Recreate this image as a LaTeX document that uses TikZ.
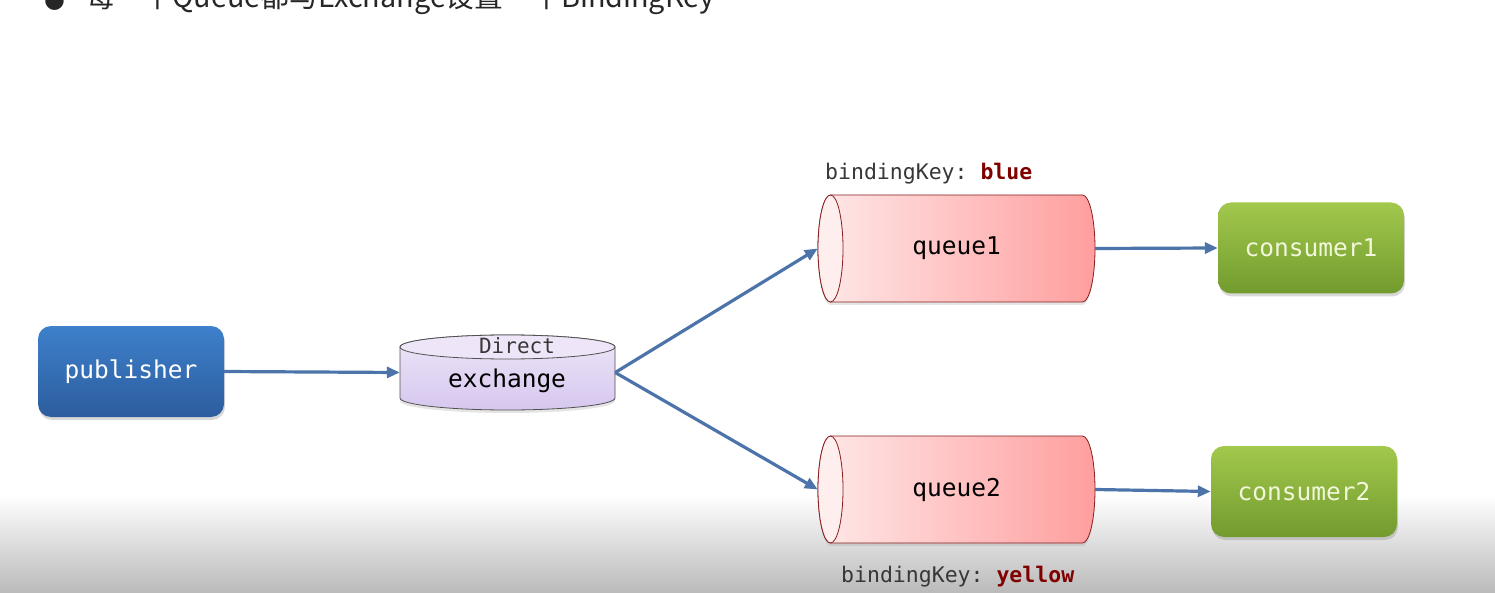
\documentclass[tikz,border=0pt]{standalone}
\usepackage{fontspec}
\setmonofont{DejaVu Sans Mono}
\newfontfamily\cjkfont{Noto Sans CJK SC}
\newfontfamily\symfont{DejaVu Sans}
\usetikzlibrary{arrows.meta,shadows}
\definecolor{pubtop}{RGB}{62,128,203}
\definecolor{pubbot}{RGB}{44,93,158}
\definecolor{contop}{RGB}{162,200,76}
\definecolor{conbot}{RGB}{114,155,46}
\definecolor{context}{RGB}{242,247,218}
\definecolor{arrowblue}{RGB}{76,116,171}
\definecolor{qborder}{RGB}{135,30,30}
\definecolor{qleft}{RGB}{255,232,232}
\definecolor{qright}{RGB}{255,158,158}
\definecolor{qend}{RGB}{255,238,238}
\definecolor{extop}{RGB}{238,230,248}
\definecolor{exbot}{RGB}{214,199,238}
\definecolor{exborder}{RGB}{80,80,80}
\definecolor{keygray}{RGB}{55,55,55}
\definecolor{keyred}{RGB}{128,0,0}
\definecolor{shadebot}{RGB}{186,186,186}
\newcommand\boxfont{\ttfamily\fontsize{24.5}{28}\selectfont}
\newcommand\keyfont{\ttfamily\fontsize{21.5}{24}\selectfont}
\begin{document}
\begin{tikzpicture}[x=1pt,y=-1pt,
  box/.style={rounded corners=13pt, minimum width=186pt, minimum height=91pt, inner sep=0pt, font=\boxfont,
    drop shadow={opacity=0.3, shadow xshift=1pt, shadow yshift=-3pt}},
  pubbox/.style={box, top color=pubtop, bottom color=pubbot, text=white},
  conbox/.style={box, top color=contop, bottom color=conbot, text=context},
  qbox/.style={minimum width=277pt, minimum height=107pt, inner sep=0pt, font=\boxfont},
  qbody/.style={draw=qborder, line width=0.8pt, left color=qleft, right color=qright,
    drop shadow={opacity=0.2, shadow xshift=0pt, shadow yshift=-3pt}},
  qface/.style={draw=qborder, line width=0.8pt, fill=qend},
  exbody/.style={draw=exborder, line width=0.8pt, top color=extop, bottom color=exbot,
    drop shadow={opacity=0.2, shadow xshift=0pt, shadow yshift=-3pt}},
  exface/.style={draw=exborder, line width=0.8pt, fill=extop},
  flow/.style={draw=arrowblue, line width=3.2pt, -{Triangle[length=13pt,width=11pt]}},
  keylbl/.style={anchor=west, inner sep=0pt, font=\keyfont, text=keygray}]
\useasboundingbox (0,0) rectangle (1495,593);
\clip (0,0) rectangle (1495,593);
% background
\fill[white] (0,0) rectangle (1495,593);
\shade[top color=white, bottom color=shadebot] (0,495) rectangle (1495,593);
% title (cut off at the top, as in the reference)
\node[anchor=base, inner sep=0pt, font=\symfont\fontsize{24}{24}\selectfont, text=black!85] (bul) at (54.5,8) {●};
\node[anchor=base west, inner sep=0pt, font=\cjkfont\fontsize{28.8}{30}\selectfont, text=black!85] (title) at (86,8) {每一个Queue都与Exchange设置一个BindingKey};
% exchange cylinder
\path[exbody] (400,347) -- (400,398) arc[start angle=180, end angle=360, x radius=107.5pt, y radius=12pt]
  -- (615,347) arc[start angle=0, end angle=180, x radius=107.5pt, y radius=12pt] -- cycle;
\path[exface] (507.5,347) ellipse[x radius=107.5pt, y radius=12pt];
% queue1 cylinder
\path[qbody] (830.5,195) -- (1082.5,195) arc[start angle=90, end angle=-90, x radius=12.5pt, y radius=53.5pt]
  -- (830.5,302) arc[start angle=270, end angle=90, x radius=12.5pt, y radius=53.5pt] -- cycle;
\path[qface] (830.5,248.5) ellipse[x radius=12.5pt, y radius=53.5pt];
% queue2 cylinder
\path[qbody] (830.5,436) -- (1082.5,436) arc[start angle=90, end angle=-90, x radius=12.5pt, y radius=53.5pt]
  -- (830.5,543) arc[start angle=270, end angle=90, x radius=12.5pt, y radius=53.5pt] -- cycle;
\path[qface] (830.5,489.5) ellipse[x radius=12.5pt, y radius=53.5pt];
% nodes
\node[pubbox] (pub) at (131,371.5) {publisher};
\node[minimum width=215pt, minimum height=75pt, inner sep=0pt] (ex) at (507.5,372.5) {};
\node[inner sep=0pt, font=\ttfamily\fontsize{21}{24}\selectfont, text=keygray] (extype) at (517,346) {Direct};
\node[inner sep=0pt, font=\boxfont] (exname) at (507,381) {exchange};
\node[qbox] (q1) at (956.5,248.5) {queue1};
\node[qbox] (q2) at (956.5,489.5) {queue2};
\node[conbox] (c1) at (1311,248) {consumer1};
\node[conbox] (c2) at (1304,491.5) {consumer2};
\node[keylbl] (k1) at (825,174) {bindingKey: \textbf{\textcolor{keyred}{blue}}};
\node[keylbl] (k2) at (841,577) {bindingKey: \textbf{\textcolor{keyred}{yellow}}};
% connectors
\draw[flow] (pub.east) -- (ex.west);
\draw[flow] (ex.east) -- (q1.west);
\draw[flow] (ex.east) -- (q2.west);
\draw[flow] (q1.east) -- (c1.west);
\draw[flow] (q2.east) -- (c2.west);
\end{tikzpicture}
\end{document}
